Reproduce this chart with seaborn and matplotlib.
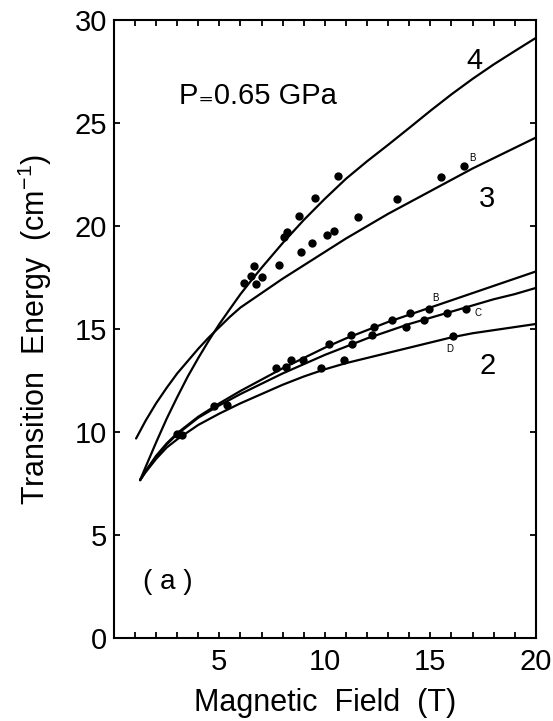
import matplotlib
matplotlib.use("Agg")
import matplotlib.pyplot as plt
import seaborn as sns
import pandas as pd
from matplotlib.ticker import MultipleLocator

# ---- theoretical transition curves (field in T, energy in cm^-1) ----
curve4_field = [1.24, 1.5, 2, 2.5, 3, 3.5, 4, 4.5, 5, 5.5, 6, 6.5, 7, 8, 9, 10,
                11, 12, 13, 14, 15, 16, 17, 18, 19, 20]
curve4_energy = [7.67, 8.3, 9.5, 10.65, 11.7, 12.7, 13.6, 14.45, 15.25, 15.98,
                 16.7, 17.35, 17.98, 19.18, 20.3, 21.33, 22.3, 23.15, 23.95,
                 24.77, 25.6, 26.4, 27.15, 27.85, 28.5, 29.14]

curve3_field = [1.05, 1.5, 2, 2.5, 3, 3.5, 4, 4.5, 5, 5.5, 6, 7, 8, 9, 10, 11,
                12, 13, 14, 15, 16, 17, 18, 19, 20]
curve3_energy = [9.69, 10.55, 11.4, 12.15, 12.85, 13.45, 14.05, 14.6, 15.1,
                 15.6, 16.05, 16.75, 17.45, 18.1, 18.75, 19.4, 20.0, 20.6,
                 21.15, 21.7, 22.25, 22.8, 23.3, 23.8, 24.3]

lower_field = [1.24, 1.5, 2, 2.5, 3, 4, 5, 6, 7, 8, 9, 10, 11, 12, 13, 14, 15,
               16, 17, 18, 19, 20]
curveB_energy = [7.67, 8.1, 8.85, 9.45, 9.95, 10.75, 11.4, 12.0, 12.55, 13.1,
                 13.6, 14.1, 14.55, 14.95, 15.35, 15.7, 16.05, 16.4, 16.75,
                 17.1, 17.45, 17.8]
curveC_energy = [7.67, 8.1, 8.8, 9.4, 9.9, 10.7, 11.3, 11.85, 12.35, 12.85,
                 13.3, 13.75, 14.15, 14.55, 14.9, 15.25, 15.55, 15.85, 16.15,
                 16.45, 16.7, 17.0]
curveD_energy = [7.67, 8.05, 8.7, 9.25, 9.65, 10.35, 10.9, 11.4, 11.85, 12.3,
                 12.7, 13.05, 13.35, 13.6, 13.85, 14.1, 14.35, 14.6, 14.8,
                 14.95, 15.1, 15.25]

# ---- measured transitions ----
upper_dots_field = [6.17, 6.49, 6.66, 6.72, 7.04, 7.84, 8.07, 8.19, 8.78, 9.54,
                    10.61, 8.87, 9.41, 10.09, 10.44, 11.59, 13.41, 15.51, 16.61]
upper_dots_energy = [17.25, 17.59, 18.06, 17.18, 17.54, 18.1, 19.48, 19.72,
                     20.49, 21.39, 22.43, 18.75, 19.16, 19.55, 19.76, 20.45,
                     21.34, 22.39, 22.91]

lower_dots_field = [2.98, 3.22, 4.75, 5.35, 7.69, 8.16, 8.38, 8.98, 9.82, 10.21,
                    10.91, 11.24, 11.27, 12.22, 12.35, 13.2, 13.83, 14.04,
                    14.72, 14.92, 15.8, 16.09, 16.69]
lower_dots_energy = [9.9, 9.85, 11.26, 11.31, 13.12, 13.14, 13.5, 13.5, 13.09,
                     14.3, 13.5, 14.71, 14.3, 14.71, 15.11, 15.44, 15.11, 15.76,
                     15.44, 16.0, 15.76, 14.66, 16.0]

x_ticks = [5, 10, 15, 20]
y_ticks = [0, 5, 10, 15, 20, 25, 30]

sns.set_style("ticks")
plt.rcParams["font.family"] = ["Liberation Sans", "DejaVu Sans"]
plt.rcParams["mathtext.fontset"] = "custom"
plt.rcParams["mathtext.rm"] = "Liberation Sans"
plt.rcParams["mathtext.it"] = "Liberation Sans:italic"
for key in ("text.color", "axes.labelcolor", "xtick.color", "ytick.color",
            "axes.edgecolor"):
    plt.rcParams[key] = "black"

fig = plt.figure(figsize=(5.53, 7.21), dpi=100)
ax = fig.add_axes([0.206, 0.115, 0.763, 0.857])

curves = [
    (curve4_field, curve4_energy),
    (curve3_field, curve3_energy),
    (lower_field, curveB_energy),
    (lower_field, curveC_energy),
    (lower_field, curveD_energy),
]
for fx, fy in curves:
    sns.lineplot(x=fx, y=fy, ax=ax, color="black", linewidth=1.6,
                 sort=False, estimator=None)

dots = pd.DataFrame({
    "field": upper_dots_field + lower_dots_field,
    "energy": upper_dots_energy + lower_dots_energy,
})
sns.scatterplot(data=dots, x="field", y="energy", ax=ax, color="black",
                s=36, edgecolor="black", linewidth=0, zorder=3)

ax.set_xlim(0, 20)
ax.set_ylim(0, 30)
ax.set_xticks(x_ticks)
ax.set_yticks(y_ticks)
ax.xaxis.set_minor_locator(MultipleLocator(1))
ax.tick_params(which="both", direction="in", length=4.5, width=1.3,
               top=True, right=True, labelsize=21, pad=7)
ax.tick_params(axis="y", pad=5)
for s in ax.spines.values():
    s.set_linewidth(1.5)
    s.set_color("black")

ax.set_xlabel("Magnetic  Field  (T)", fontsize=22, labelpad=9)
ax.set_ylabel("Transition  Energy  (cm$^{-1}$)", fontsize=22, labelpad=15)

ax.text(3.1, 26.3, "P\u208c0.65 GPa", fontsize=21, va="center", ha="left",
        family=["Liberation Sans", "DejaVu Sans"])
ax.text(17.1, 28.0, "4", fontsize=21, ha="center", va="center")
ax.text(17.7, 21.3, "3", fontsize=21, ha="center", va="center")
ax.text(17.7, 13.2, "2", fontsize=21, ha="center", va="center")
ax.text(1.4, 2.7, "( a )", fontsize=20, ha="left", va="center")
ax.text(16.98, 23.32, "B", fontsize=7, ha="center", va="center")
ax.text(15.22, 16.52, "B", fontsize=7, ha="center", va="center")
ax.text(17.28, 15.79, "C", fontsize=7, ha="center", va="center")
ax.text(15.9, 14.03, "D", fontsize=7, ha="center", va="center")

fig.savefig("out.png", dpi=100)
